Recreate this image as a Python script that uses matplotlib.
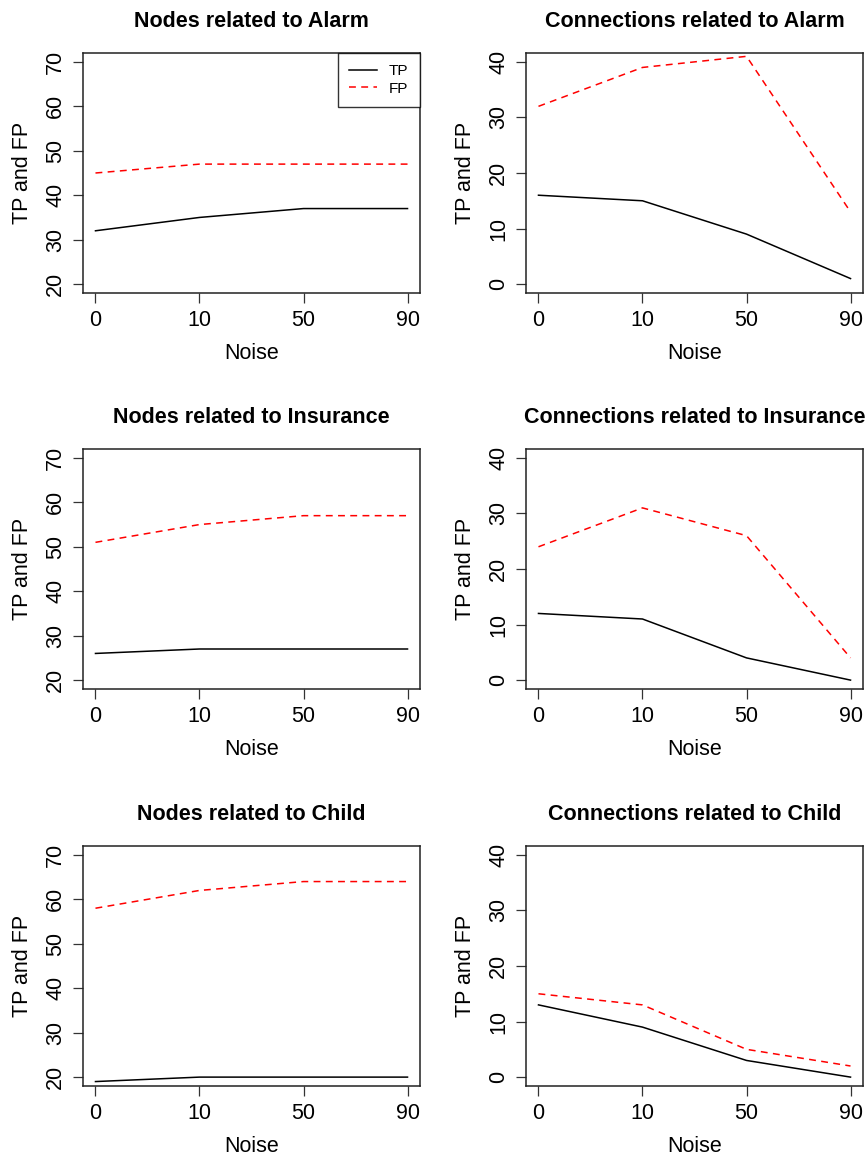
import matplotlib.pyplot as plt

plt.rcParams['font.family'] = ['Liberation Sans', 'DejaVu Sans']

noise = ['0', '10', '50', '90']

nodes_titles = ['Nodes related to Alarm', 'Nodes related to Insurance', 'Nodes related to Child']
conn_titles = ['Connections related to Alarm', 'Connections related to Insurance', 'Connections related to Child']

nodes_tp = [[32, 35, 37, 37], [26, 27, 27, 27], [19, 20, 20, 20]]
nodes_fp = [[45, 47, 47, 47], [51, 55, 57, 57], [58, 62, 64, 64]]
conn_tp = [[16, 15, 9, 1], [12, 11, 4, 0], [13, 9, 3, 0]]
conn_fp = [[32, 39, 41, 13], [24, 31, 26, 4], [15, 13, 5, 2]]

fig = plt.figure(figsize=(8.65, 11.55), dpi=100)

lefts = [83 / 865, 526 / 865]
bottoms = [1 - 293 / 1155, 1 - 689 / 1155, 1 - 1086 / 1155]
w = 337 / 865
h = 240 / 1155


def panel(ax, tp, fp, title, ylo, yhi, legend=False):
    x = list(range(1, len(noise) + 1))
    ax.plot(x, tp, color='black', lw=1.1, label='TP')
    ax.plot(x, fp, color='red', lw=1.1, ls=(0, (4.5, 3.5)), label='FP')
    pad = 0.04 * 3
    ax.set_xlim(1 - pad, 4 + pad)
    yp = 0.04 * (yhi - ylo)
    ax.set_ylim(ylo - yp, yhi + yp)
    ax.set_xticks(x)
    ax.set_xticklabels(noise)
    ax.set_yticks(range(ylo, yhi + 1, 10))
    for lab in ax.get_yticklabels():
        lab.set_rotation(90)
        lab.set_va('center')
    ax.tick_params(length=7, width=0.9, labelsize=15.5, pad=5, color='#333333')
    for s in ax.spines.values():
        s.set_linewidth(1.1)
        s.set_color('#222222')
    ax.set_title(title, fontsize=15.5, fontweight='bold', pad=19)
    ax.set_xlabel('Noise', fontsize=15.5, labelpad=9)
    ax.set_ylabel('TP and FP', fontsize=15.5, labelpad=9)
    if legend:
        leg = ax.legend(loc='upper right', fontsize=11, frameon=True, fancybox=False,
                        borderaxespad=0, handlelength=1.8, borderpad=0.75,
                        labelspacing=0.2, handletextpad=0.8)
        leg.get_frame().set_edgecolor('black')
        leg.get_frame().set_linewidth(1.0)


for i in range(3):
    ax = fig.add_axes([lefts[0], bottoms[i], w, h])
    panel(ax, nodes_tp[i], nodes_fp[i], nodes_titles[i], 20, 70, legend=(i == 0))
    ax = fig.add_axes([lefts[1], bottoms[i], w, h])
    panel(ax, conn_tp[i], conn_fp[i], conn_titles[i], 0, 40)

fig.savefig('out.png', dpi=100)
